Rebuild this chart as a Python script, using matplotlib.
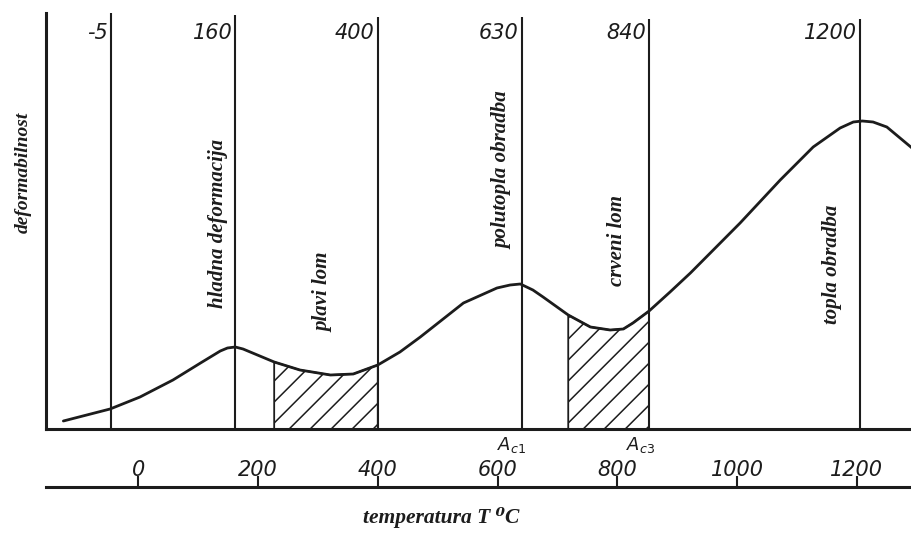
# -*- coding: utf-8 -*
"""
Deformabilnost celika u ovisnosti o temperaturi obrade
(shematski dijagram, vrijednosti ocitane sa slike)
"""

import numpy as np
import matplotlib
matplotlib.use('Agg')
import matplotlib.pyplot as plt
from matplotlib.patches import Polygon
from matplotlib.transforms import offset_copy

plt.rcParams['mathtext.fontset'] = 'dejavusans'
plt.rcParams['mathtext.default'] = 'it'

# Curve: temperature (degC) vs deformability (arbitrary units)
temperature = [-125, -47, 3, 58, 104, 137, 149, 162, 175, 199, 227, 270, 321, 359,
               400, 437, 471, 543, 599, 621, 638, 659, 676, 718, 755, 788, 810, 826,
               853, 888, 922, 1005, 1072, 1127, 1172, 1194, 1209, 1227, 1250, 1292]
deformability = [8, 20, 32, 49, 66, 78, 81, 82, 80, 74, 67, 59, 54, 55,
                 64, 77, 92, 126, 141, 144, 145, 139, 132, 114, 102, 99, 100, 106,
                 118, 137, 156, 206, 249, 282, 301, 307, 308, 307, 302, 281]

# Zone boundaries
linePos = [-45, 162, 400, 640, 853, 1205]
lineLabels = ['-5', '160', '400', '630', '840', '1200']
lineTop = [417, 414, 412, 412, 410, 410]

zoneNames = ['hladna deformacija', 'plavi lom', 'polutopla obradba', 'crveni lom', 'topla obradba']

# Brittle ranges (hatched)
blueBrittle = (227, 400)
redBrittle = (718, 853)

criticalNames = ['$A_{c1}$', '$A_{c3}$']
criticalPos = [623, 838]

scaleTicks = [0, 200, 400, 600, 800, 1000, 1200]

ink = '#1c1c1c'
pxPerDeg = 0.599

fig = plt.figure(figsize=(9.12, 5.36), dpi=100)

ax = fig.add_axes([46/912., (536-429)/536., 866/912., 416/536.])
ax.set_xlim(-154, 1292)
ax.set_ylim(0, 416)
ax.spines['top'].set_visible(False)
ax.spines['right'].set_visible(False)
ax.spines['left'].set_linewidth(2.2)
ax.spines['bottom'].set_linewidth(2.2)
ax.spines['left'].set_color(ink)
ax.spines['bottom'].set_color(ink)
ax.set_xticks([])
ax.set_yticks([])
ax.patch.set_visible(False)

ax.plot(temperature, deformability, color=ink, lw=2.0, solid_capstyle='round', clip_on=False)
ax.vlines(linePos, 0, lineTop, color=ink, lw=1.5)

labelTrans = offset_copy(ax.transData, fig=fig, x=-3, y=0, units='dots')
for pos, lab in zip(linePos, lineLabels):
    ax.text(pos, 396, lab, transform=labelTrans, ha='right', va='center',
            fontsize=15, style='italic', color=ink)

# hatched areas
for lo, hi in [blueBrittle, redBrittle]:
    sel = [(t, d) for t, d in zip(temperature, deformability) if lo <= t <= hi]
    verts = sel + [(hi, 0), (lo, 0)]
    patch = Polygon(verts, closed=True, facecolor='none', edgecolor=ink, lw=1.3)
    ax.add_patch(patch)
    step = 21 / pxPerDeg
    for c in np.arange(lo - 300 / pxPerDeg, hi + step, step):
        hl, = ax.plot([c, c + 300 / pxPerDeg], [0, 300], color=ink, lw=1.1)
        hl.set_clip_path(patch)

serifFont = ['Liberation Serif', 'DejaVu Serif']
zoneX = [133, 309, 608, 800, 1159]
zoneY = [206, 137, 259, 188, 165]
for name, x, y in zip(zoneNames, zoneX, zoneY):
    ax.text(x, y, name, rotation=90, ha='center', va='center', fontsize=15,
            family=serifFont, style='italic', weight='bold', color=ink)

for name, x in zip(criticalNames, criticalPos):
    ax.text(x, -16, name, ha='center', va='center', fontsize=13, color=ink, clip_on=False)

# temperature scale below
ax2 = fig.add_axes([46/912., (536-487)/536. - 0.01, 866/912., 0.01])
ax2.set_xlim(-154, 1292)
for s in ['bottom', 'left', 'right']:
    ax2.spines[s].set_visible(False)
ax2.spines['top'].set_linewidth(2.2)
ax2.spines['top'].set_color(ink)
ax2.xaxis.tick_top()
ax2.set_xticks(scaleTicks)
ax2.set_xticklabels([str(t) for t in scaleTicks])
ax2.set_yticks([])
ax2.tick_params(axis='x', direction='out', length=8, width=1.5, pad=-3,
                labelsize=15, colors=ink)
for lab in ax2.get_xticklabels():
    lab.set_fontstyle('italic')
ax2.patch.set_visible(False)

fig.text(441/912., 1 - 518/536., 'temperatura T \u2070C', ha='center', va='center',
         fontsize=15.5, family=serifFont, style='italic', weight='bold', color=ink)
fig.text(23/912., 1 - 172/536., 'deformabilnost', rotation=90, ha='center', va='center',
         fontsize=14, family=serifFont, style='italic', weight='bold', color=ink)

fig.savefig('out.png', dpi=100)
